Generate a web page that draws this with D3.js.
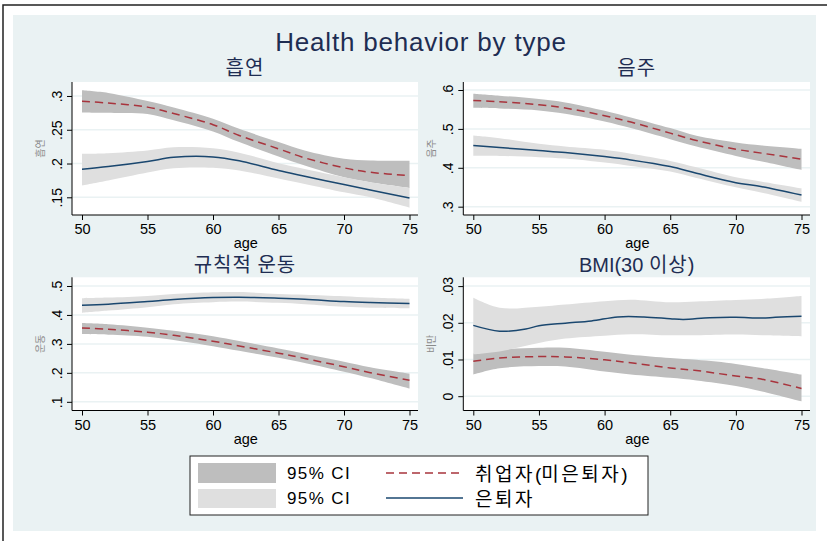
<!DOCTYPE html>
<html><head><meta charset="utf-8">
<script src="https://cdn.jsdelivr.net/npm/d3@7"></script>
<style>body{margin:0;background:#fff}</style>
</head><body>
<script>
// ---------------- DATA ----------------
const ages = [50, 52, 55, 57, 60, 62, 65, 67, 70, 72, 75];
const xTicks = [50, 55, 60, 65, 70, 75];

// 흡연 (smoking)
const smokeEmp   = [.2921, .2895, .2835, .2740, .2575, .2416, .2218, .2084, .1936, .1871, .1822];
const smokeEmpLo = [.2757, .2750, .2735, .2640, .2475, .2317, .2104, .1970, .1797, .1723, .1639];
const smokeEmpHi = [.3084, .3045, .2925, .2830, .2663, .2515, .2317, .2193, .2070, .2045, .2040];
const smokeRet   = [.1916, .1955, .2030, .2092, .2098, .2040, .1896, .1812, .1688, .1609, .1490];
const smokeRetLo = [.1673, .1747, .1866, .1930, .1936, .1896, .1777, .1698, .1574, .1500, .1347];
const smokeRetHi = [.2143, .2153, .2193, .2240, .2225, .2160, .2005, .1920, .1797, .1723, .1639];

// 음주 (drinking)
const drinkEmp   = [.5733, .5700, .5622, .5536, .5338, .5175, .4891, .4702, .4478, .4375, .4220];
const drinkEmpLo = [.5544, .5527, .5476, .5390, .5192, .5020, .4736, .4547, .4306, .4160, .3945];
const drinkEmpHi = [.5905, .5854, .5768, .5682, .5467, .5295, .5020, .4822, .4650, .4573, .4487];
const drinkRet   = [.4573, .4521, .4444, .4392, .4289, .4203, .4031, .3859, .3618, .3515, .3300];
const drinkRetLo = [.4306, .4306, .4272, .4237, .4134, .4048, .3902, .3739, .3498, .3360, .3128];
const drinkRetHi = [.4831, .4762, .4616, .4547, .4461, .4358, .4177, .4014, .3756, .3644, .3472];

// 규칙적 운동 (regular exercise)
const exerEmp   = [.3549, .3505, .3405, .3295, .3091, .2930, .2680, .2497, .2211, .2006, .1743];
const exerEmpLo = [.3343, .3320, .3250, .3135, .2920, .2760, .2520, .2340, .2040, .1820, .1457];
const exerEmpHi = [.3720, .3680, .3560, .3450, .3263, .3100, .2840, .2660, .2383, .2190, .1971];
const exerRet   = [.4337, .4371, .4463, .4531, .4600, .4611, .4577, .4543, .4463, .4429, .4394];
const exerRetLo = [.4074, .4150, .4269, .4370, .4440, .4460, .4417, .4370, .4280, .4250, .4234];
const exerRetHi = [.4577, .4600, .4657, .4720, .4783, .4790, .4726, .4700, .4646, .4600, .4554];

// BMI(30 이상)
const bmiEmp   = [.0095, .0104, .0108, .0107, .0099, .0091, .0077, .0070, .0055, .0046, .0021];
const bmiEmpLo = [.0059, .0076, .0082, .0081, .0067, .0059, .0050, .0043, .0028, .0013, -.0014];
const bmiEmpHi = [.0116, .0127, .0132, .0132, .0121, .0113, .0104, .0099, .0088, .0077, .0059];
const bmiRetAges = [50, 52, 54, 55, 57, 59, 61, 63, 65, 66, 68, 70, 72, 73, 75];
const bmiRet     = [.0193, .0177, .0183, .0192, .0199, .0205, .0216, .0216, .0211, .0209, .0214, .0215, .0213, .0215, .0218];
const bmiRetLo = [.0114, .0122, .0145, .0157, .0165, .0169, .0166, .0166, .0168, .0166, .0163];
const bmiRetHi = [.0268, .0241, .0244, .0250, .0259, .0263, .0256, .0258, .0262, .0265, .0273];

const titles  = ["흡연", "음주", "규칙적 운동", "BMI(30 이상)"];
const yTitles = ["흡연", "음주", "운동", "비만"];
const yTickVals = [[.15, .2, .25, .3], [.3, .4, .5, .6], [.1, .2, .3, .4, .5], [0, .01, .02, .03]];
const yTickLabels = [[".15", ".2", ".25", ".3"], [".3", ".4", ".5", ".6"], [".1", ".2", ".3", ".4", ".5"], ["0", ".01", ".02", ".03"]];
const legendLabels = ["95% CI", "95% CI", "취업자(미은퇴자)", "은퇴자"];
const mainTitle = "Health behavior by type";
const xTitle = "age";

// ---------------- STYLE / LAYOUT ----------------
const W = 827, H = 541;
const FONT = '"Liberation Sans", Arial, "Noto Sans CJK KR", sans-serif';
const BG = "#EAF2F3", DARK = "#bebebe", LIGHT = "#dfdfdf";
const RED = "#a8343d", BLUE = "#1a476f", NAVY = "#1e2d52";

const svg = d3.select("body").append("svg").attr("width", W).attr("height", H)
  .style("font-family", FONT);
svg.append("rect").attr("width", W).attr("height", H).attr("fill", "#fff");
svg.append("rect").attr("x", 13).attr("y", 15).attr("width", 803).attr("height", 516).attr("fill", BG);
svg.append("path").attr("d", `M3,${H} V5 H${W}`).attr("fill", "none").attr("stroke", "#222").attr("stroke-width", 1.5);

// text helper: hangul runs get extra letter spacing
function richText(sel, str, ls) {
  const parts = str.match(/[\uAC00-\uD7A3]+|[^\uAC00-\uD7A3]+/g) || [];
  parts.forEach(p => {
    const t = sel.append("tspan").text(p);
    if (/[\uAC00-\uD7A3]/.test(p) && ls) t.attr("letter-spacing", ls);
  });
  return sel;
}

svg.append("text").attr("x", 421).attr("y", 51).attr("text-anchor", "middle")
  .attr("font-size", 26).attr("letter-spacing", 0.8).attr("fill", NAVY).text(mainTitle);

const layout = [
  {x0: 72, x1: 418, y0: 82, y1: 215, dom: [.1238, .3207], ty: 75},
  {x0: 463.3, x1: 810, y0: 82, y1: 215, dom: [.2786, .6206], ty: 75},
  {x0: 72, x1: 418, y0: 277.3, y1: 410.5, dom: [.070, .530], ty: 271.5},
  {x0: 463.3, x1: 810, y0: 277.3, y1: 410.5, dom: [-.0039, .0324], ty: 271.5}
];
const series = [
  {emp: smokeEmp, empLo: smokeEmpLo, empHi: smokeEmpHi, retA: ages, ret: smokeRet, retLo: smokeRetLo, retHi: smokeRetHi},
  {emp: drinkEmp, empLo: drinkEmpLo, empHi: drinkEmpHi, retA: ages, ret: drinkRet, retLo: drinkRetLo, retHi: drinkRetHi},
  {emp: exerEmp, empLo: exerEmpLo, empHi: exerEmpHi, retA: ages, ret: exerRet, retLo: exerRetLo, retHi: exerRetHi},
  {emp: bmiEmp, empLo: bmiEmpLo, empHi: bmiEmpHi, retA: bmiRetAges, ret: bmiRet, retLo: bmiRetLo, retHi: bmiRetHi}
];

const curve = d3.curveCatmullRom.alpha(0.5);

layout.forEach((L, i) => {
  const S = series[i];
  const x = d3.scaleLinear().domain([50, 75]).range([L.x0 + 10, L.x1 - 8.5]);
  const y = d3.scaleLinear().domain(L.dom).range([L.y1, L.y0]);
  const g = svg.append("g");

  richText(g.append("text").attr("x", (L.x0 + L.x1) / 2).attr("y", L.ty).attr("text-anchor", "middle")
    .attr("font-size", 20).attr("fill", NAVY), titles[i], 1);

  g.append("rect").attr("x", L.x0).attr("y", L.y0).attr("width", L.x1 - L.x0).attr("height", L.y1 - L.y0).attr("fill", "#fff");
  g.selectAll(".grid").data(yTickVals[i]).join("line")
    .attr("x1", L.x0).attr("x2", L.x1).attr("y1", d => y(d)).attr("y2", d => y(d))
    .attr("stroke", BG).attr("stroke-width", 1.5);

  const idx = d3.range(ages.length);
  const areaE = d3.area().x(k => x(ages[k])).y0(k => y(S.empLo[k])).y1(k => y(S.empHi[k])).curve(curve);
  const areaR = d3.area().x(k => x(ages[k])).y0(k => y(S.retLo[k])).y1(k => y(S.retHi[k])).curve(curve);
  g.append("path").attr("d", areaE(idx)).attr("fill", DARK);
  g.append("path").attr("d", d3.line().x(k => x(ages[k])).y(k => y(S.emp[k])).curve(curve)(idx))
    .attr("fill", "none").attr("stroke", RED).attr("stroke-width", 1.5).attr("stroke-dasharray", "8,5");
  g.append("path").attr("d", areaR(idx)).attr("fill", LIGHT);
  const ridx = d3.range(S.retA.length);
  g.append("path").attr("d", d3.line().x(k => x(S.retA[k])).y(k => y(S.ret[k])).curve(curve)(ridx))
    .attr("fill", "none").attr("stroke", BLUE).attr("stroke-width", 1.5);

  const ya = g.append("g").attr("transform", `translate(${L.x0},0)`)
    .call(d3.axisLeft(y).tickValues(yTickVals[i]).tickFormat((d, k) => yTickLabels[i][k]).tickSize(5));
  ya.select(".domain").remove();
  ya.selectAll("line").attr("stroke", "#000");
  ya.selectAll("text").attr("transform", "rotate(-90)").attr("x", 0).attr("y", -10).attr("dy", 0)
    .attr("text-anchor", "middle").attr("font-size", 14).attr("font-family", FONT).attr("fill", "#000");
  g.append("line").attr("x1", L.x0).attr("x2", L.x0).attr("y1", L.y0).attr("y2", L.y1).attr("stroke", "#000");

  const xa = g.append("g").attr("transform", `translate(0,${L.y1})`)
    .call(d3.axisBottom(x).tickValues(xTicks).tickFormat(d3.format("d")).tickSize(5));
  xa.select(".domain").remove();
  xa.selectAll("line").attr("stroke", "#000");
  xa.selectAll("text").attr("y", 19).attr("dy", 0).attr("font-size", 14.5).attr("font-family", FONT).attr("fill", "#000");
  g.append("line").attr("x1", L.x0).attr("x2", L.x1).attr("y1", L.y1).attr("y2", L.y1).attr("stroke", "#000");

  g.append("text").attr("x", (L.x0 + 10 + L.x1 - 8.5) / 2).attr("y", L.y1 + 33).attr("text-anchor", "middle")
    .attr("font-size", 14.5).attr("fill", "#000").text(xTitle);

  richText(g.append("text").attr("transform", `translate(${L.x0 - 28},${(L.y0 + L.y1) / 2}) rotate(-90)`)
    .attr("text-anchor", "middle").attr("font-size", 10).attr("fill", "#8a8a8a"), yTitles[i], 0);
});

// legend
const lg = svg.append("g");
lg.append("rect").attr("x", 190).attr("y", 456).attr("width", 458).attr("height", 59)
  .attr("fill", "#fff").attr("stroke", "#222").attr("stroke-width", 1);
lg.append("rect").attr("x", 198).attr("y", 463).attr("width", 78).attr("height", 20).attr("fill", DARK);
lg.append("rect").attr("x", 198).attr("y", 489).attr("width", 78).attr("height", 19).attr("fill", LIGHT);
lg.append("text").attr("x", 287).attr("y", 479).attr("font-size", 17).attr("letter-spacing", 1.4).text(legendLabels[0]);
lg.append("text").attr("x", 287).attr("y", 504).attr("font-size", 17).attr("letter-spacing", 1.4).text(legendLabels[1]);
lg.append("line").attr("x1", 386).attr("x2", 463).attr("y1", 473).attr("y2", 473)
  .attr("stroke", RED).attr("stroke-width", 1.5).attr("stroke-dasharray", "8,5");
lg.append("line").attr("x1", 386).attr("x2", 463).attr("y1", 498).attr("y2", 498)
  .attr("stroke", BLUE).attr("stroke-width", 1.5);
richText(lg.append("text").attr("x", 475).attr("y", 481).attr("font-size", 19), legendLabels[2], 2.5);
richText(lg.append("text").attr("x", 475).attr("y", 506).attr("font-size", 19), legendLabels[3], 2.5);
</script>
</body></html>
